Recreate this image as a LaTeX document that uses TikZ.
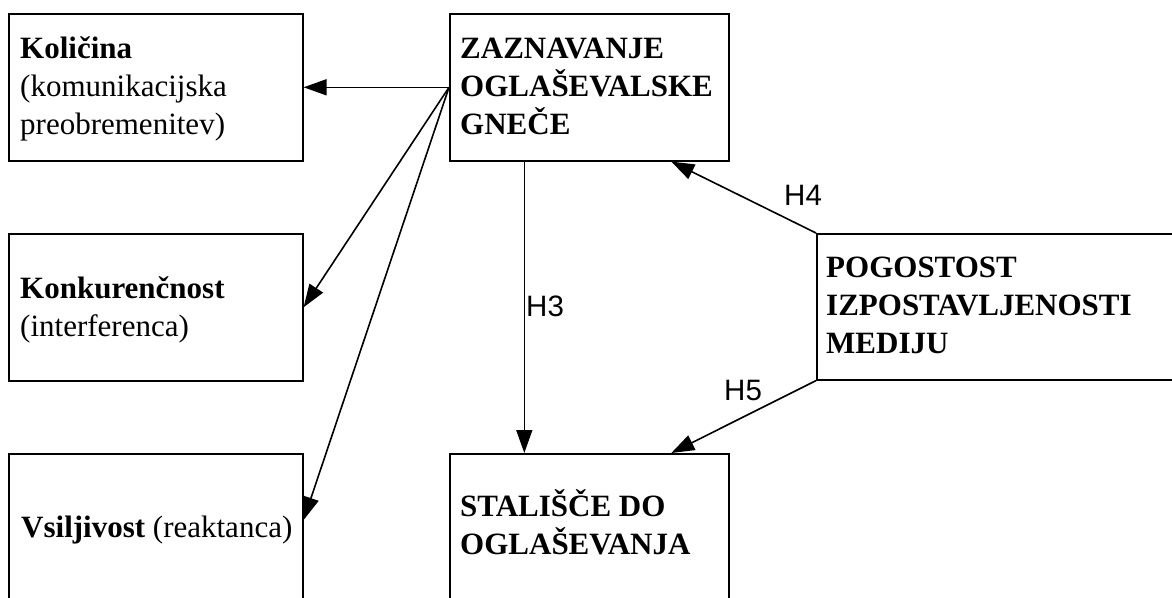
\documentclass[tikz,border=0pt]{standalone}
\usepackage{fontspec}
\setmainfont{Liberation Serif}
\newfontfamily\hfont{Liberation Sans}
\usetikzlibrary{arrows.meta,calc}
\begin{document}
\begin{tikzpicture}[x=1pt,y=-1pt,
 box/.style={draw,line width=1.6pt,rectangle,inner sep=0pt,anchor=north west,minimum width=294pt,minimum height=147pt},
 lbl/.style={anchor=base west,inner sep=0pt,align=left,font=\fontsize{31}{38}\selectfont},
 blbl/.style={lbl,font=\fontsize{31}{38}\selectfont\bfseries},
 hyp/.style={anchor=base west,inner sep=0pt,font=\hfont\fontsize{29.5}{32}\selectfont},
 arr/.style={line width=1.6pt,-{Triangle[length=23pt,width=16pt]}}]
\useasboundingbox (0,0) rectangle (1172,597);
\clip (0,0) rectangle (1172,597);
\node[box] (kol) at (8,13) {};
\node[box] (kon) at (8,233) {};
\node[box,minimum height=170pt] (vsi) at (8,453) {};
\node[box,minimum width=279pt] (zaz) at (449,13) {};
\node[box,minimum width=279pt,minimum height=170pt] (sta) at (449,453) {};
\node[box,minimum width=400pt,minimum height=146pt] (pog) at (816,233) {};
\node[lbl] (kolt) at ($(kol.north west)+(12,121)$) {\textbf{Količina}\\(komunikacijska\\preobremenitev)};
\node[lbl] (kont) at ($(kon.north west)+(12,103)$) {\textbf{Konkurenčnost}\\(interferenca)};
\node[lbl] (vsit) at ($(vsi.north west)+(13,84)$) {\textbf{Vsiljivost} (reaktanca)};
\node[blbl] (zazt) at ($(zaz.north west)+(11,121)$) {ZAZNAVANJE\\OGLAŠEVALSKE\\GNEČE};
\node[blbl] (stat) at ($(sta.north west)+(11,101)$) {STALIŠČE DO\\OGLAŠEVANJA};
\node[blbl] (pogt) at ($(pog.north west)+(10,120)$) {POGOSTOST\\IZPOSTAVLJENOSTI\\MEDIJU};
\coordinate (vsitip) at ($(vsi.north east)+(0,67)$);
\coordinate (h3a) at ($(zaz.south)+(-65,0)$);
\coordinate (h3b) at ($(sta.north)+(-65,0)$);
\coordinate (h4b) at ($(zaz.south)+(82,0)$);
\coordinate (h5b) at ($(sta.north)+(82,0)$);
\draw[arr] (zaz.west) -- (kol.east);
\draw[arr] (zaz.west) -- (kon.east);
\draw[arr] (zaz.west) -- (vsitip);
\draw[arr] (h3a) -- (h3b);
\draw[arr] (pog.north west) -- (h4b);
\draw[arr] (pog.south west) -- (h5b);
\node[hyp] (h3) at (526,316) {H3};
\node[hyp] (h4) at (784,205) {H4};
\node[hyp] (h5) at (724,400) {H5};
\end{tikzpicture}
\end{document}
